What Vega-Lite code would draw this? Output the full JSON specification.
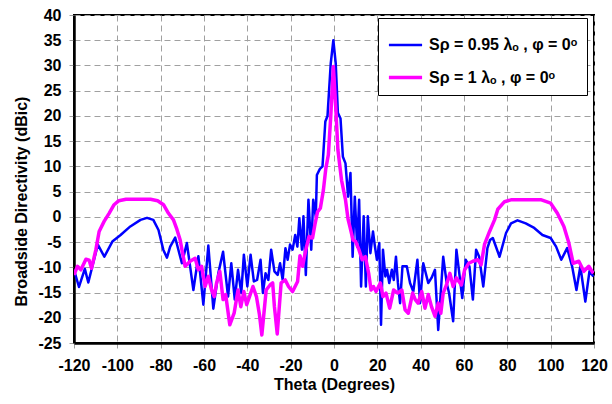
{
  "$schema": "https://vega.github.io/schema/vega-lite/v6.json",
  "width": 520,
  "height": 328,
  "autosize": "none",
  "padding": {"left": 74, "top": 15, "right": 18, "bottom": 61},
  "background": "white",
  "config": {
    "font": "Liberation Sans",
    "view": {"stroke": "#000", "strokeWidth": 2},
    "axis": {
      "labelFont": "Liberation Sans", "labelFontWeight": "bold", "labelFontSize": 16, "labelColor": "#000",
      "titleFont": "Liberation Sans", "titleFontWeight": "bold", "titleFontSize": 16, "titleColor": "#000",
      "gridColor": "#a0a0a0", "gridDash": [6, 4], "gridWidth": 1, "gridOpacity": 1,
      "tickColor": "#a0a0a0", "tickSize": 5, "tickWidth": 1,
      "domainColor": "#000", "domainWidth": 2.5
    },
    "legend": {
      "labelFont": "Liberation Sans", "labelFontWeight": "bold", "labelFontSize": 16, "labelColor": "#000"
    }
  },
  "data": {"values": [
    {"theta": -120, "directivity": -10.5, "series": "Sρ = 0.95 λₒ , φ = 0ᵒ"},
    {"theta": -117.7, "directivity": -13.9, "series": "Sρ = 0.95 λₒ , φ = 0ᵒ"},
    {"theta": -115, "directivity": -10.3, "series": "Sρ = 0.95 λₒ , φ = 0ᵒ"},
    {"theta": -113.4, "directivity": -13, "series": "Sρ = 0.95 λₒ , φ = 0ᵒ"},
    {"theta": -109, "directivity": -5.5, "series": "Sρ = 0.95 λₒ , φ = 0ᵒ"},
    {"theta": -106, "directivity": -7.9, "series": "Sρ = 0.95 λₒ , φ = 0ᵒ"},
    {"theta": -102.3, "directivity": -4.9, "series": "Sρ = 0.95 λₒ , φ = 0ᵒ"},
    {"theta": -98.5, "directivity": -3.6, "series": "Sρ = 0.95 λₒ , φ = 0ᵒ"},
    {"theta": -94, "directivity": -1.9, "series": "Sρ = 0.95 λₒ , φ = 0ᵒ"},
    {"theta": -89.3, "directivity": -0.6, "series": "Sρ = 0.95 λₒ , φ = 0ᵒ"},
    {"theta": -86.3, "directivity": -0.2, "series": "Sρ = 0.95 λₒ , φ = 0ᵒ"},
    {"theta": -83.4, "directivity": -0.6, "series": "Sρ = 0.95 λₒ , φ = 0ᵒ"},
    {"theta": -81, "directivity": -2.6, "series": "Sρ = 0.95 λₒ , φ = 0ᵒ"},
    {"theta": -78.8, "directivity": -6.5, "series": "Sρ = 0.95 λₒ , φ = 0ᵒ"},
    {"theta": -77.1, "directivity": -8.1, "series": "Sρ = 0.95 λₒ , φ = 0ᵒ"},
    {"theta": -75.6, "directivity": -5.9, "series": "Sρ = 0.95 λₒ , φ = 0ᵒ"},
    {"theta": -73.3, "directivity": -4.1, "series": "Sρ = 0.95 λₒ , φ = 0ᵒ"},
    {"theta": -70.2, "directivity": -9.2, "series": "Sρ = 0.95 λₒ , φ = 0ᵒ"},
    {"theta": -67.9, "directivity": -5.2, "series": "Sρ = 0.95 λₒ , φ = 0ᵒ"},
    {"theta": -64.9, "directivity": -14.5, "series": "Sρ = 0.95 λₒ , φ = 0ᵒ"},
    {"theta": -62.6, "directivity": -7.8, "series": "Sρ = 0.95 λₒ , φ = 0ᵒ"},
    {"theta": -60.3, "directivity": -17.4, "series": "Sρ = 0.95 λₒ , φ = 0ᵒ"},
    {"theta": -58, "directivity": -5.7, "series": "Sρ = 0.95 λₒ , φ = 0ᵒ"},
    {"theta": -55.7, "directivity": -18.2, "series": "Sρ = 0.95 λₒ , φ = 0ᵒ"},
    {"theta": -53.4, "directivity": -11.2, "series": "Sρ = 0.95 λₒ , φ = 0ᵒ"},
    {"theta": -51.2, "directivity": -6.9, "series": "Sρ = 0.95 λₒ , φ = 0ᵒ"},
    {"theta": -48.9, "directivity": -15.8, "series": "Sρ = 0.95 λₒ , φ = 0ᵒ"},
    {"theta": -47.4, "directivity": -9.2, "series": "Sρ = 0.95 λₒ , φ = 0ᵒ"},
    {"theta": -45.8, "directivity": -16.4, "series": "Sρ = 0.95 λₒ , φ = 0ᵒ"},
    {"theta": -44.3, "directivity": -10.5, "series": "Sρ = 0.95 λₒ , φ = 0ᵒ"},
    {"theta": -42.8, "directivity": -15.1, "series": "Sρ = 0.95 λₒ , φ = 0ᵒ"},
    {"theta": -41.6, "directivity": -7.5, "series": "Sρ = 0.95 λₒ , φ = 0ᵒ"},
    {"theta": -40, "directivity": -13.8, "series": "Sρ = 0.95 λₒ , φ = 0ᵒ"},
    {"theta": -38.5, "directivity": -7.5, "series": "Sρ = 0.95 λₒ , φ = 0ᵒ"},
    {"theta": -37, "directivity": -12.8, "series": "Sρ = 0.95 λₒ , φ = 0ᵒ"},
    {"theta": -35.5, "directivity": -12.5, "series": "Sρ = 0.95 λₒ , φ = 0ᵒ"},
    {"theta": -33.9, "directivity": -8.5, "series": "Sρ = 0.95 λₒ , φ = 0ᵒ"},
    {"theta": -32.8, "directivity": -15.1, "series": "Sρ = 0.95 λₒ , φ = 0ᵒ"},
    {"theta": -31.6, "directivity": -11.2, "series": "Sρ = 0.95 λₒ , φ = 0ᵒ"},
    {"theta": -30.3, "directivity": -12.5, "series": "Sρ = 0.95 λₒ , φ = 0ᵒ"},
    {"theta": -29, "directivity": -6.5, "series": "Sρ = 0.95 λₒ , φ = 0ᵒ"},
    {"theta": -27.5, "directivity": -10.8, "series": "Sρ = 0.95 λₒ , φ = 0ᵒ"},
    {"theta": -26, "directivity": -11.5, "series": "Sρ = 0.95 λₒ , φ = 0ᵒ"},
    {"theta": -24.9, "directivity": -9.2, "series": "Sρ = 0.95 λₒ , φ = 0ᵒ"},
    {"theta": -23.7, "directivity": -12.5, "series": "Sρ = 0.95 λₒ , φ = 0ᵒ"},
    {"theta": -22.4, "directivity": -6.2, "series": "Sρ = 0.95 λₒ , φ = 0ᵒ"},
    {"theta": -21.4, "directivity": -8.5, "series": "Sρ = 0.95 λₒ , φ = 0ᵒ"},
    {"theta": -20.3, "directivity": -5.5, "series": "Sρ = 0.95 λₒ , φ = 0ᵒ"},
    {"theta": -19.1, "directivity": -6.5, "series": "Sρ = 0.95 λₒ , φ = 0ᵒ"},
    {"theta": -17.9, "directivity": -3.6, "series": "Sρ = 0.95 λₒ , φ = 0ᵒ"},
    {"theta": -16.9, "directivity": -5.9, "series": "Sρ = 0.95 λₒ , φ = 0ᵒ"},
    {"theta": -16, "directivity": -0.3, "series": "Sρ = 0.95 λₒ , φ = 0ᵒ"},
    {"theta": -14.8, "directivity": -6.5, "series": "Sρ = 0.95 λₒ , φ = 0ᵒ"},
    {"theta": -14.1, "directivity": 0.1, "series": "Sρ = 0.95 λₒ , φ = 0ᵒ"},
    {"theta": -13, "directivity": -11.5, "series": "Sρ = 0.95 λₒ , φ = 0ᵒ"},
    {"theta": -11.8, "directivity": 3.4, "series": "Sρ = 0.95 λₒ , φ = 0ᵒ"},
    {"theta": -10.5, "directivity": -6.5, "series": "Sρ = 0.95 λₒ , φ = 0ᵒ"},
    {"theta": -9.6, "directivity": 3.4, "series": "Sρ = 0.95 λₒ , φ = 0ᵒ"},
    {"theta": -8.4, "directivity": 0, "series": "Sρ = 0.95 λₒ , φ = 0ᵒ"},
    {"theta": -7.9, "directivity": 8.3, "series": "Sρ = 0.95 λₒ , φ = 0ᵒ"},
    {"theta": -6.5, "directivity": 9.5, "series": "Sρ = 0.95 λₒ , φ = 0ᵒ"},
    {"theta": -5.3, "directivity": 10, "series": "Sρ = 0.95 λₒ , φ = 0ᵒ"},
    {"theta": -4, "directivity": 18.9, "series": "Sρ = 0.95 λₒ , φ = 0ᵒ"},
    {"theta": -3, "directivity": 20, "series": "Sρ = 0.95 λₒ , φ = 0ᵒ"},
    {"theta": -1.5, "directivity": 30.4, "series": "Sρ = 0.95 λₒ , φ = 0ᵒ"},
    {"theta": -0.3, "directivity": 35, "series": "Sρ = 0.95 λₒ , φ = 0ᵒ"},
    {"theta": 0.8, "directivity": 30.4, "series": "Sρ = 0.95 λₒ , φ = 0ᵒ"},
    {"theta": 1.8, "directivity": 20.6, "series": "Sρ = 0.95 λₒ , φ = 0ᵒ"},
    {"theta": 3, "directivity": 19.5, "series": "Sρ = 0.95 λₒ , φ = 0ᵒ"},
    {"theta": 4.1, "directivity": 11.9, "series": "Sρ = 0.95 λₒ , φ = 0ᵒ"},
    {"theta": 5.3, "directivity": 10.6, "series": "Sρ = 0.95 λₒ , φ = 0ᵒ"},
    {"theta": 6.5, "directivity": 4, "series": "Sρ = 0.95 λₒ , φ = 0ᵒ"},
    {"theta": 7.6, "directivity": 8.7, "series": "Sρ = 0.95 λₒ , φ = 0ᵒ"},
    {"theta": 8.6, "directivity": -7.9, "series": "Sρ = 0.95 λₒ , φ = 0ᵒ"},
    {"theta": 9.6, "directivity": 4, "series": "Sρ = 0.95 λₒ , φ = 0ᵒ"},
    {"theta": 10.7, "directivity": -5.9, "series": "Sρ = 0.95 λₒ , φ = 0ᵒ"},
    {"theta": 11.6, "directivity": 3.4, "series": "Sρ = 0.95 λₒ , φ = 0ᵒ"},
    {"theta": 12.5, "directivity": -13.8, "series": "Sρ = 0.95 λₒ , φ = 0ᵒ"},
    {"theta": 13.7, "directivity": 0.1, "series": "Sρ = 0.95 λₒ , φ = 0ᵒ"},
    {"theta": 14.7, "directivity": -13.8, "series": "Sρ = 0.95 λₒ , φ = 0ᵒ"},
    {"theta": 15.6, "directivity": 0.1, "series": "Sρ = 0.95 λₒ , φ = 0ᵒ"},
    {"theta": 16.8, "directivity": -7.2, "series": "Sρ = 0.95 λₒ , φ = 0ᵒ"},
    {"theta": 18, "directivity": -2.9, "series": "Sρ = 0.95 λₒ , φ = 0ᵒ"},
    {"theta": 18.9, "directivity": -5.9, "series": "Sρ = 0.95 λₒ , φ = 0ᵒ"},
    {"theta": 19.8, "directivity": -8.5, "series": "Sρ = 0.95 λₒ , φ = 0ᵒ"},
    {"theta": 20.9, "directivity": -5.2, "series": "Sρ = 0.95 λₒ , φ = 0ᵒ"},
    {"theta": 21.7, "directivity": -21.4, "series": "Sρ = 0.95 λₒ , φ = 0ᵒ"},
    {"theta": 22.6, "directivity": -6.5, "series": "Sρ = 0.95 λₒ , φ = 0ᵒ"},
    {"theta": 23.7, "directivity": -11.8, "series": "Sρ = 0.95 λₒ , φ = 0ᵒ"},
    {"theta": 24.5, "directivity": -10.5, "series": "Sρ = 0.95 λₒ , φ = 0ᵒ"},
    {"theta": 25.5, "directivity": -13.1, "series": "Sρ = 0.95 λₒ , φ = 0ᵒ"},
    {"theta": 26.7, "directivity": -10.5, "series": "Sρ = 0.95 λₒ , φ = 0ᵒ"},
    {"theta": 27.6, "directivity": -12.5, "series": "Sρ = 0.95 λₒ , φ = 0ᵒ"},
    {"theta": 28.6, "directivity": -7.9, "series": "Sρ = 0.95 λₒ , φ = 0ᵒ"},
    {"theta": 29.5, "directivity": -13.1, "series": "Sρ = 0.95 λₒ , φ = 0ᵒ"},
    {"theta": 30.5, "directivity": -17.1, "series": "Sρ = 0.95 λₒ , φ = 0ᵒ"},
    {"theta": 31.6, "directivity": -9.8, "series": "Sρ = 0.95 λₒ , φ = 0ᵒ"},
    {"theta": 33.6, "directivity": -9.8, "series": "Sρ = 0.95 λₒ , φ = 0ᵒ"},
    {"theta": 35.1, "directivity": -13.1, "series": "Sρ = 0.95 λₒ , φ = 0ᵒ"},
    {"theta": 36.6, "directivity": -14.8, "series": "Sρ = 0.95 λₒ , φ = 0ᵒ"},
    {"theta": 38.5, "directivity": -8.5, "series": "Sρ = 0.95 λₒ , φ = 0ᵒ"},
    {"theta": 39.7, "directivity": -17.1, "series": "Sρ = 0.95 λₒ , φ = 0ᵒ"},
    {"theta": 41.2, "directivity": -9.2, "series": "Sρ = 0.95 λₒ , φ = 0ᵒ"},
    {"theta": 43.5, "directivity": -13.1, "series": "Sρ = 0.95 λₒ , φ = 0ᵒ"},
    {"theta": 45, "directivity": -12.1, "series": "Sρ = 0.95 λₒ , φ = 0ᵒ"},
    {"theta": 46.6, "directivity": -10.5, "series": "Sρ = 0.95 λₒ , φ = 0ᵒ"},
    {"theta": 48.1, "directivity": -22.4, "series": "Sρ = 0.95 λₒ , φ = 0ᵒ"},
    {"theta": 50.4, "directivity": -7.9, "series": "Sρ = 0.95 λₒ , φ = 0ᵒ"},
    {"theta": 52, "directivity": -13.1, "series": "Sρ = 0.95 λₒ , φ = 0ᵒ"},
    {"theta": 53.1, "directivity": -15.1, "series": "Sρ = 0.95 λₒ , φ = 0ᵒ"},
    {"theta": 55, "directivity": -20.7, "series": "Sρ = 0.95 λₒ , φ = 0ᵒ"},
    {"theta": 56.5, "directivity": -6.5, "series": "Sρ = 0.95 λₒ , φ = 0ᵒ"},
    {"theta": 58, "directivity": -11.8, "series": "Sρ = 0.95 λₒ , φ = 0ᵒ"},
    {"theta": 59.2, "directivity": -16.1, "series": "Sρ = 0.95 λₒ , φ = 0ᵒ"},
    {"theta": 60.8, "directivity": -8.5, "series": "Sρ = 0.95 λₒ , φ = 0ᵒ"},
    {"theta": 62.5, "directivity": -9.8, "series": "Sρ = 0.95 λₒ , φ = 0ᵒ"},
    {"theta": 64.1, "directivity": -16.4, "series": "Sρ = 0.95 λₒ , φ = 0ᵒ"},
    {"theta": 65.6, "directivity": -6.5, "series": "Sρ = 0.95 λₒ , φ = 0ᵒ"},
    {"theta": 67, "directivity": -7.9, "series": "Sρ = 0.95 λₒ , φ = 0ᵒ"},
    {"theta": 68.9, "directivity": -13.8, "series": "Sρ = 0.95 λₒ , φ = 0ᵒ"},
    {"theta": 70.8, "directivity": -6.2, "series": "Sρ = 0.95 λₒ , φ = 0ᵒ"},
    {"theta": 72, "directivity": -4.6, "series": "Sρ = 0.95 λₒ , φ = 0ᵒ"},
    {"theta": 73.3, "directivity": -4.2, "series": "Sρ = 0.95 λₒ , φ = 0ᵒ"},
    {"theta": 76.4, "directivity": -7.9, "series": "Sρ = 0.95 λₒ , φ = 0ᵒ"},
    {"theta": 79.4, "directivity": -3.2, "series": "Sρ = 0.95 λₒ , φ = 0ᵒ"},
    {"theta": 81.7, "directivity": -1.3, "series": "Sρ = 0.95 λₒ , φ = 0ᵒ"},
    {"theta": 84.7, "directivity": -0.7, "series": "Sρ = 0.95 λₒ , φ = 0ᵒ"},
    {"theta": 88.5, "directivity": -1.3, "series": "Sρ = 0.95 λₒ , φ = 0ᵒ"},
    {"theta": 92.4, "directivity": -2.2, "series": "Sρ = 0.95 λₒ , φ = 0ᵒ"},
    {"theta": 96.2, "directivity": -3.6, "series": "Sρ = 0.95 λₒ , φ = 0ᵒ"},
    {"theta": 100, "directivity": -4.2, "series": "Sρ = 0.95 λₒ , φ = 0ᵒ"},
    {"theta": 102.5, "directivity": -5.9, "series": "Sρ = 0.95 λₒ , φ = 0ᵒ"},
    {"theta": 104.9, "directivity": -8.5, "series": "Sρ = 0.95 λₒ , φ = 0ᵒ"},
    {"theta": 107.6, "directivity": -6.2, "series": "Sρ = 0.95 λₒ , φ = 0ᵒ"},
    {"theta": 109.9, "directivity": -9.8, "series": "Sρ = 0.95 λₒ , φ = 0ᵒ"},
    {"theta": 111.9, "directivity": -14.5, "series": "Sρ = 0.95 λₒ , φ = 0ᵒ"},
    {"theta": 113.7, "directivity": -9.8, "series": "Sρ = 0.95 λₒ , φ = 0ᵒ"},
    {"theta": 116, "directivity": -16.8, "series": "Sρ = 0.95 λₒ , φ = 0ᵒ"},
    {"theta": 117.9, "directivity": -10.8, "series": "Sρ = 0.95 λₒ , φ = 0ᵒ"},
    {"theta": 119.7, "directivity": -11.8, "series": "Sρ = 0.95 λₒ , φ = 0ᵒ"},

    {"theta": -120, "directivity": -11.5, "series": "Sρ = 1 λₒ , φ = 0ᵒ"},
    {"theta": -118.4, "directivity": -9.8, "series": "Sρ = 1 λₒ , φ = 0ᵒ"},
    {"theta": -116.8, "directivity": -10.5, "series": "Sρ = 1 λₒ , φ = 0ᵒ"},
    {"theta": -114.5, "directivity": -8.4, "series": "Sρ = 1 λₒ , φ = 0ᵒ"},
    {"theta": -113, "directivity": -8.6, "series": "Sρ = 1 λₒ , φ = 0ᵒ"},
    {"theta": -111.9, "directivity": -10.2, "series": "Sρ = 1 λₒ , φ = 0ᵒ"},
    {"theta": -109.9, "directivity": -6.5, "series": "Sρ = 1 λₒ , φ = 0ᵒ"},
    {"theta": -108.4, "directivity": -2.9, "series": "Sρ = 1 λₒ , φ = 0ᵒ"},
    {"theta": -106.1, "directivity": -0.9, "series": "Sρ = 1 λₒ , φ = 0ᵒ"},
    {"theta": -103.8, "directivity": 0.7, "series": "Sρ = 1 λₒ , φ = 0ᵒ"},
    {"theta": -101.5, "directivity": 2.4, "series": "Sρ = 1 λₒ , φ = 0ᵒ"},
    {"theta": -99.3, "directivity": 3.2, "series": "Sρ = 1 λₒ , φ = 0ᵒ"},
    {"theta": -96, "directivity": 3.5, "series": "Sρ = 1 λₒ , φ = 0ᵒ"},
    {"theta": -90.9, "directivity": 3.5, "series": "Sρ = 1 λₒ , φ = 0ᵒ"},
    {"theta": -84.7, "directivity": 3.5, "series": "Sρ = 1 λₒ , φ = 0ᵒ"},
    {"theta": -81.4, "directivity": 3.2, "series": "Sρ = 1 λₒ , φ = 0ᵒ"},
    {"theta": -78.7, "directivity": 2.4, "series": "Sρ = 1 λₒ , φ = 0ᵒ"},
    {"theta": -76.4, "directivity": 0.7, "series": "Sρ = 1 λₒ , φ = 0ᵒ"},
    {"theta": -74.1, "directivity": -0.6, "series": "Sρ = 1 λₒ , φ = 0ᵒ"},
    {"theta": -72.5, "directivity": -2.5, "series": "Sρ = 1 λₒ , φ = 0ᵒ"},
    {"theta": -71, "directivity": -4.6, "series": "Sρ = 1 λₒ , φ = 0ᵒ"},
    {"theta": -70.2, "directivity": -6.5, "series": "Sρ = 1 λₒ , φ = 0ᵒ"},
    {"theta": -68.7, "directivity": -9.8, "series": "Sρ = 1 λₒ , φ = 0ᵒ"},
    {"theta": -66.4, "directivity": -8.8, "series": "Sρ = 1 λₒ , φ = 0ᵒ"},
    {"theta": -64.1, "directivity": -8.2, "series": "Sρ = 1 λₒ , φ = 0ᵒ"},
    {"theta": -62.6, "directivity": -10.5, "series": "Sρ = 1 λₒ , φ = 0ᵒ"},
    {"theta": -61.1, "directivity": -9.8, "series": "Sρ = 1 λₒ , φ = 0ᵒ"},
    {"theta": -59.5, "directivity": -13.8, "series": "Sρ = 1 λₒ , φ = 0ᵒ"},
    {"theta": -58, "directivity": -11.8, "series": "Sρ = 1 λₒ , φ = 0ᵒ"},
    {"theta": -56.5, "directivity": -14.5, "series": "Sρ = 1 λₒ , φ = 0ᵒ"},
    {"theta": -55.3, "directivity": -15.8, "series": "Sρ = 1 λₒ , φ = 0ᵒ"},
    {"theta": -54.2, "directivity": -13.1, "series": "Sρ = 1 λₒ , φ = 0ᵒ"},
    {"theta": -52.7, "directivity": -10.8, "series": "Sρ = 1 λₒ , φ = 0ᵒ"},
    {"theta": -51.2, "directivity": -16.4, "series": "Sρ = 1 λₒ , φ = 0ᵒ"},
    {"theta": -50, "directivity": -15.4, "series": "Sρ = 1 λₒ , φ = 0ᵒ"},
    {"theta": -48.1, "directivity": -21.4, "series": "Sρ = 1 λₒ , φ = 0ᵒ"},
    {"theta": -46.1, "directivity": -19.1, "series": "Sρ = 1 λₒ , φ = 0ᵒ"},
    {"theta": -44.3, "directivity": -14.5, "series": "Sρ = 1 λₒ , φ = 0ᵒ"},
    {"theta": -43, "directivity": -17.8, "series": "Sρ = 1 λₒ , φ = 0ᵒ"},
    {"theta": -41.6, "directivity": -14.8, "series": "Sρ = 1 λₒ , φ = 0ᵒ"},
    {"theta": -40.3, "directivity": -17.4, "series": "Sρ = 1 λₒ , φ = 0ᵒ"},
    {"theta": -39, "directivity": -15.8, "series": "Sρ = 1 λₒ , φ = 0ᵒ"},
    {"theta": -37.4, "directivity": -13.8, "series": "Sρ = 1 λₒ , φ = 0ᵒ"},
    {"theta": -35.8, "directivity": -15.8, "series": "Sρ = 1 λₒ , φ = 0ᵒ"},
    {"theta": -34.4, "directivity": -19.4, "series": "Sρ = 1 λₒ , φ = 0ᵒ"},
    {"theta": -33.3, "directivity": -23.4, "series": "Sρ = 1 λₒ , φ = 0ᵒ"},
    {"theta": -31.3, "directivity": -14.5, "series": "Sρ = 1 λₒ , φ = 0ᵒ"},
    {"theta": -29.5, "directivity": -13.5, "series": "Sρ = 1 λₒ , φ = 0ᵒ"},
    {"theta": -28.3, "directivity": -13.1, "series": "Sρ = 1 λₒ , φ = 0ᵒ"},
    {"theta": -27.5, "directivity": -17.8, "series": "Sρ = 1 λₒ , φ = 0ᵒ"},
    {"theta": -26.2, "directivity": -23.2, "series": "Sρ = 1 λₒ , φ = 0ᵒ"},
    {"theta": -24.4, "directivity": -13.1, "series": "Sρ = 1 λₒ , φ = 0ᵒ"},
    {"theta": -22.5, "directivity": -12.5, "series": "Sρ = 1 λₒ , φ = 0ᵒ"},
    {"theta": -21, "directivity": -13.8, "series": "Sρ = 1 λₒ , φ = 0ᵒ"},
    {"theta": -19.1, "directivity": -14.8, "series": "Sρ = 1 λₒ , φ = 0ᵒ"},
    {"theta": -16.8, "directivity": -12.8, "series": "Sρ = 1 λₒ , φ = 0ᵒ"},
    {"theta": -15.7, "directivity": -7.7, "series": "Sρ = 1 λₒ , φ = 0ᵒ"},
    {"theta": -14.5, "directivity": -9.8, "series": "Sρ = 1 λₒ , φ = 0ᵒ"},
    {"theta": -13, "directivity": -6.5, "series": "Sρ = 1 λₒ , φ = 0ᵒ"},
    {"theta": -11.5, "directivity": -3.9, "series": "Sρ = 1 λₒ , φ = 0ᵒ"},
    {"theta": -9.9, "directivity": -4.2, "series": "Sρ = 1 λₒ , φ = 0ᵒ"},
    {"theta": -8.8, "directivity": -1.5, "series": "Sρ = 1 λₒ , φ = 0ᵒ"},
    {"theta": -7.6, "directivity": 1, "series": "Sρ = 1 λₒ , φ = 0ᵒ"},
    {"theta": -6.3, "directivity": 1.7, "series": "Sρ = 1 λₒ , φ = 0ᵒ"},
    {"theta": -4.9, "directivity": 5.3, "series": "Sρ = 1 λₒ , φ = 0ᵒ"},
    {"theta": -3.8, "directivity": 9.5, "series": "Sρ = 1 λₒ , φ = 0ᵒ"},
    {"theta": -2.6, "directivity": 12.3, "series": "Sρ = 1 λₒ , φ = 0ᵒ"},
    {"theta": -1.5, "directivity": 19.9, "series": "Sρ = 1 λₒ , φ = 0ᵒ"},
    {"theta": -0.3, "directivity": 29.8, "series": "Sρ = 1 λₒ , φ = 0ᵒ"},
    {"theta": 0.8, "directivity": 21.8, "series": "Sρ = 1 λₒ , φ = 0ᵒ"},
    {"theta": 1.8, "directivity": 13.3, "series": "Sρ = 1 λₒ , φ = 0ᵒ"},
    {"theta": 3.5, "directivity": 7.2, "series": "Sρ = 1 λₒ , φ = 0ᵒ"},
    {"theta": 5.3, "directivity": 3.4, "series": "Sρ = 1 λₒ , φ = 0ᵒ"},
    {"theta": 6.5, "directivity": -0.5, "series": "Sρ = 1 λₒ , φ = 0ᵒ"},
    {"theta": 7.3, "directivity": -1.9, "series": "Sρ = 1 λₒ , φ = 0ᵒ"},
    {"theta": 8.8, "directivity": -4.6, "series": "Sρ = 1 λₒ , φ = 0ᵒ"},
    {"theta": 10, "directivity": -4.9, "series": "Sρ = 1 λₒ , φ = 0ᵒ"},
    {"theta": 11.5, "directivity": -6.5, "series": "Sρ = 1 λₒ , φ = 0ᵒ"},
    {"theta": 13, "directivity": -8.5, "series": "Sρ = 1 λₒ , φ = 0ᵒ"},
    {"theta": 14.5, "directivity": -7.9, "series": "Sρ = 1 λₒ , φ = 0ᵒ"},
    {"theta": 16, "directivity": -11.2, "series": "Sρ = 1 λₒ , φ = 0ᵒ"},
    {"theta": 17.1, "directivity": -14.5, "series": "Sρ = 1 λₒ , φ = 0ᵒ"},
    {"theta": 18.2, "directivity": -13.8, "series": "Sρ = 1 λₒ , φ = 0ᵒ"},
    {"theta": 19.4, "directivity": -14.8, "series": "Sρ = 1 λₒ , φ = 0ᵒ"},
    {"theta": 21.4, "directivity": -13.1, "series": "Sρ = 1 λₒ , φ = 0ᵒ"},
    {"theta": 22.6, "directivity": -15.8, "series": "Sρ = 1 λₒ , φ = 0ᵒ"},
    {"theta": 24, "directivity": -15.1, "series": "Sρ = 1 λₒ , φ = 0ᵒ"},
    {"theta": 25.7, "directivity": -18.1, "series": "Sρ = 1 λₒ , φ = 0ᵒ"},
    {"theta": 27.5, "directivity": -14.5, "series": "Sρ = 1 λₒ , φ = 0ᵒ"},
    {"theta": 29.4, "directivity": -15.1, "series": "Sρ = 1 λₒ , φ = 0ᵒ"},
    {"theta": 31.3, "directivity": -14.5, "series": "Sρ = 1 λₒ , φ = 0ᵒ"},
    {"theta": 32.8, "directivity": -18.4, "series": "Sρ = 1 λₒ , φ = 0ᵒ"},
    {"theta": 34.3, "directivity": -19.1, "series": "Sρ = 1 λₒ , φ = 0ᵒ"},
    {"theta": 36.3, "directivity": -15.1, "series": "Sρ = 1 λₒ , φ = 0ᵒ"},
    {"theta": 37.5, "directivity": -16.4, "series": "Sρ = 1 λₒ , φ = 0ᵒ"},
    {"theta": 38.8, "directivity": -17.1, "series": "Sρ = 1 λₒ , φ = 0ᵒ"},
    {"theta": 40.5, "directivity": -14.8, "series": "Sρ = 1 λₒ , φ = 0ᵒ"},
    {"theta": 42, "directivity": -18.1, "series": "Sρ = 1 λₒ , φ = 0ᵒ"},
    {"theta": 43.5, "directivity": -15.4, "series": "Sρ = 1 λₒ , φ = 0ᵒ"},
    {"theta": 45, "directivity": -17.8, "series": "Sρ = 1 λₒ , φ = 0ᵒ"},
    {"theta": 46.6, "directivity": -19.7, "series": "Sρ = 1 λₒ , φ = 0ᵒ"},
    {"theta": 48.1, "directivity": -17.1, "series": "Sρ = 1 λₒ , φ = 0ᵒ"},
    {"theta": 49.3, "directivity": -19.1, "series": "Sρ = 1 λₒ , φ = 0ᵒ"},
    {"theta": 50.4, "directivity": -15.1, "series": "Sρ = 1 λₒ , φ = 0ᵒ"},
    {"theta": 51.9, "directivity": -13.5, "series": "Sρ = 1 λₒ , φ = 0ᵒ"},
    {"theta": 53.5, "directivity": -11.2, "series": "Sρ = 1 λₒ , φ = 0ᵒ"},
    {"theta": 55, "directivity": -13.8, "series": "Sρ = 1 λₒ , φ = 0ᵒ"},
    {"theta": 56.5, "directivity": -12.1, "series": "Sρ = 1 λₒ , φ = 0ᵒ"},
    {"theta": 58.8, "directivity": -13.5, "series": "Sρ = 1 λₒ , φ = 0ᵒ"},
    {"theta": 60.3, "directivity": -10.5, "series": "Sρ = 1 λₒ , φ = 0ᵒ"},
    {"theta": 62.2, "directivity": -9.2, "series": "Sρ = 1 λₒ , φ = 0ᵒ"},
    {"theta": 64.1, "directivity": -8.8, "series": "Sρ = 1 λₒ , φ = 0ᵒ"},
    {"theta": 66.4, "directivity": -8.5, "series": "Sρ = 1 λₒ , φ = 0ᵒ"},
    {"theta": 67.9, "directivity": -9.5, "series": "Sρ = 1 λₒ , φ = 0ᵒ"},
    {"theta": 69.5, "directivity": -5.4, "series": "Sρ = 1 λₒ , φ = 0ᵒ"},
    {"theta": 71.8, "directivity": -2.9, "series": "Sρ = 1 λₒ , φ = 0ᵒ"},
    {"theta": 74.1, "directivity": -0.6, "series": "Sρ = 1 λₒ , φ = 0ᵒ"},
    {"theta": 75.6, "directivity": 1.5, "series": "Sρ = 1 λₒ , φ = 0ᵒ"},
    {"theta": 78.7, "directivity": 3, "series": "Sρ = 1 λₒ , φ = 0ᵒ"},
    {"theta": 82, "directivity": 3.4, "series": "Sρ = 1 λₒ , φ = 0ᵒ"},
    {"theta": 88, "directivity": 3.4, "series": "Sρ = 1 λₒ , φ = 0ᵒ"},
    {"theta": 95.4, "directivity": 3.4, "series": "Sρ = 1 λₒ , φ = 0ᵒ"},
    {"theta": 100, "directivity": 2.7, "series": "Sρ = 1 λₒ , φ = 0ᵒ"},
    {"theta": 103.1, "directivity": 0.7, "series": "Sρ = 1 λₒ , φ = 0ᵒ"},
    {"theta": 106.1, "directivity": -1.9, "series": "Sρ = 1 λₒ , φ = 0ᵒ"},
    {"theta": 108.4, "directivity": -5.2, "series": "Sρ = 1 λₒ , φ = 0ᵒ"},
    {"theta": 110.4, "directivity": -9.2, "series": "Sρ = 1 λₒ , φ = 0ᵒ"},
    {"theta": 113, "directivity": -8.8, "series": "Sρ = 1 λₒ , φ = 0ᵒ"},
    {"theta": 115.3, "directivity": -10.8, "series": "Sρ = 1 λₒ , φ = 0ᵒ"},
    {"theta": 117.6, "directivity": -9.8, "series": "Sρ = 1 λₒ , φ = 0ᵒ"},
    {"theta": 119.7, "directivity": -11.2, "series": "Sρ = 1 λₒ , φ = 0ᵒ"}
  ]},
  "mark": {"type": "line", "clip": true, "strokeJoin": "round"},
  "encoding": {
    "x": {
      "field": "theta", "type": "quantitative",
      "scale": {"domain": [-120, 120], "nice": false, "zero": false},
      "axis": {
        "values": [-120, -100, -80, -60, -40, -20, 0, 20, 40, 60, 80, 100, 120],
        "labelExpr": "'' + datum.value", "labelPadding": 9, "labelFlush": false,
        "title": "Theta (Degrees)", "titlePadding": 3
      }
    },
    "y": {
      "field": "directivity", "type": "quantitative",
      "scale": {"domain": [-25, 40], "nice": false, "zero": false},
      "axis": {
        "values": [-25, -20, -15, -10, -5, 0, 5, 10, 15, 20, 25, 30, 35, 40],
        "labelExpr": "'' + datum.value", "labelPadding": 8, "labelFlush": false,
        "title": "Broadside Directivity (dBic)", "titlePadding": 8, "titleY": 186
      }
    },
    "color": {
      "field": "series", "type": "nominal",
      "scale": {"domain": ["Sρ = 0.95 λₒ , φ = 0ᵒ", "Sρ = 1 λₒ , φ = 0ᵒ"], "range": ["#0000ff", "#ff00ff"]},
      "legend": {
        "title": null, "orient": "none", "legendX": 304, "legendY": 3,
        "symbolType": "stroke", "symbolSize": 1100, "symbolStrokeWidth": 3,
        "strokeColor": "#000", "fillColor": "#fff", "padding": 9,
        "rowPadding": 6, "labelOffset": 5, "labelLimit": 300
      }
    },
    "strokeWidth": {
      "field": "series", "type": "nominal",
      "scale": {"domain": ["Sρ = 0.95 λₒ , φ = 0ᵒ", "Sρ = 1 λₒ , φ = 0ᵒ"], "range": [2.5, 3.5]},
      "legend": null
    },
    "order": {"field": "theta", "type": "quantitative"}
  }
}
